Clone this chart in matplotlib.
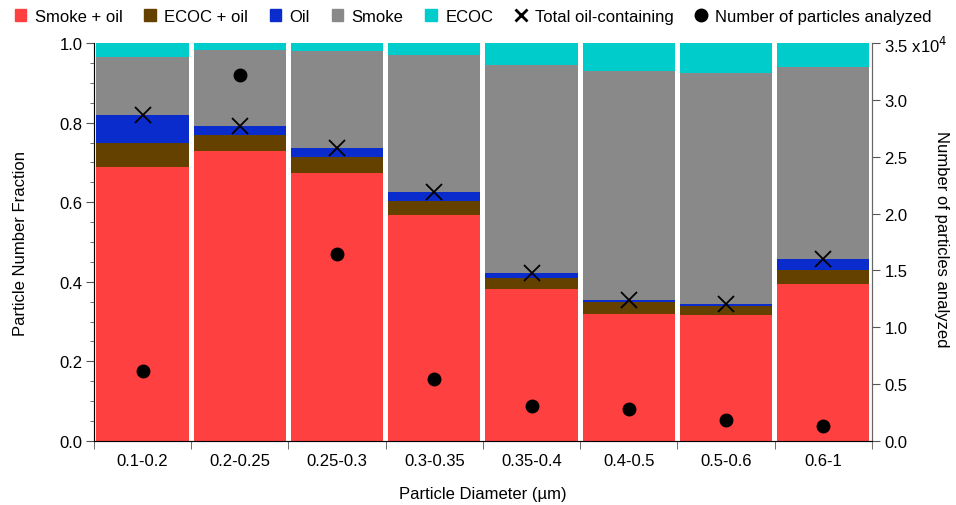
import numpy as np
import matplotlib.pyplot as plt
from matplotlib.patches import Patch
from matplotlib.lines import Line2D
from matplotlib.ticker import MultipleLocator

plt.rcParams['font.family'] = ['Liberation Sans', 'DejaVu Sans']

# size bins and stacked fractions (bottom to top)
bins = ['0.1-0.2', '0.2-0.25', '0.25-0.3', '0.3-0.35', '0.35-0.4', '0.4-0.5', '0.5-0.6', '0.6-1']
smoke_oil = [0.688, 0.728, 0.673, 0.567, 0.383, 0.320, 0.316, 0.395]
ecoc_oil = [0.062, 0.040, 0.040, 0.035, 0.027, 0.028, 0.022, 0.035]
oil = [0.069, 0.023, 0.022, 0.024, 0.011, 0.007, 0.007, 0.028]
smoke = [0.147, 0.191, 0.246, 0.344, 0.525, 0.574, 0.580, 0.482]
ecoc = [0.034, 0.018, 0.019, 0.030, 0.054, 0.071, 0.075, 0.060]
n_particles = [6130, 32150, 16440, 5430, 3100, 2790, 1870, 1340]

layers = [smoke_oil, ecoc_oil, oil, smoke, ecoc]
names = ['Smoke + oil', 'ECOC + oil', 'Oil', 'Smoke', 'ECOC']
colors = ['#ff4040', '#654100', '#0a2ccc', '#898989', '#00cccc']

x = np.arange(len(bins))
total_oil = np.array(smoke_oil) + np.array(ecoc_oil) + np.array(oil)

fig = plt.figure(figsize=(9.56, 5.06), dpi=100)
ax = fig.add_axes([0.0983, 0.1265, 0.8137, 0.7865])

bottom = np.zeros(len(bins))
for vals, c in zip(layers, colors):
    ax.bar(x, vals, width=0.95, bottom=bottom, color=c, linewidth=0)
    bottom += np.array(vals)

ax.plot(x, total_oil, 'x', color='black', ms=12, mew=1.3, zorder=5)

ax.set_xlim(-0.5, len(bins) - 0.5)
ax.set_ylim(0, 1.0)
ax.set_xticks(x)
ax.set_xticklabels(bins, fontsize=12)
ax.set_xticks(np.arange(len(bins) + 1) - 0.5, minor=True)
ax.tick_params(axis='x', which='major', length=0, pad=9)
ax.tick_params(axis='x', which='minor', length=6, color='#555555')
ax.yaxis.set_major_locator(MultipleLocator(0.2))
ax.yaxis.set_minor_locator(MultipleLocator(0.05))
ax.set_yticks(np.arange(0, 1.01, 0.2))
ax.set_yticklabels([f'{v:.1f}' for v in np.arange(0, 1.01, 0.2)], fontsize=12)
ax.tick_params(axis='y', which='major', length=6, color='#555555', pad=2)
ax.tick_params(axis='y', which='minor', length=3, color='#555555')
ax.set_ylabel('Particle Number Fraction', fontsize=12, va='center')
ax.yaxis.set_label_coords(-0.095, 0.5)
ax.set_xlabel('Particle Diameter (µm)', fontsize=12, va='center')
ax.xaxis.set_label_coords(0.5, -0.133)
ax.spines['top'].set_visible(False)
for s in ['left', 'bottom', 'right']:
    ax.spines[s].set_color('#666666')

ax2 = ax.twinx()
ax2.plot(x, n_particles, 'o', color='black', ms=9, zorder=6)
ax2.set_ylim(0, 35000)
rticks = np.arange(0, 35001, 5000)
ax2.set_yticks(rticks)
rlabels = [f'{v / 1e4:.1f}' for v in rticks]
rlabels[-1] = '3.5 x10$^{4}$'
ax2.set_yticklabels(rlabels, fontsize=12)
ax2.tick_params(axis='y', length=6, color='#555555', pad=3)
ax2.set_ylabel('Number of particles analyzed', fontsize=12, rotation=270, va='center')
ax2.yaxis.set_label_coords(1.09, 0.51)
ax2.spines['top'].set_visible(False)
ax2.spines['right'].set_color('#666666')

handles = [Patch(color=c, label=n) for c, n in zip(colors, names)]
handles.append(Line2D([], [], marker='x', ls='', color='black', ms=9, mew=2, label='Total oil-containing'))
handles.append(Line2D([], [], marker='o', ls='', color='black', ms=9, label='Number of particles analyzed'))
fig.legend(handles=handles, loc='upper center', bbox_to_anchor=(0.495, 1.01), ncol=7, frameon=False,
           fontsize=12, handlelength=0.7, handleheight=0.7, handletextpad=0.5, columnspacing=1.3)

fig.savefig('out.png', dpi=100)
